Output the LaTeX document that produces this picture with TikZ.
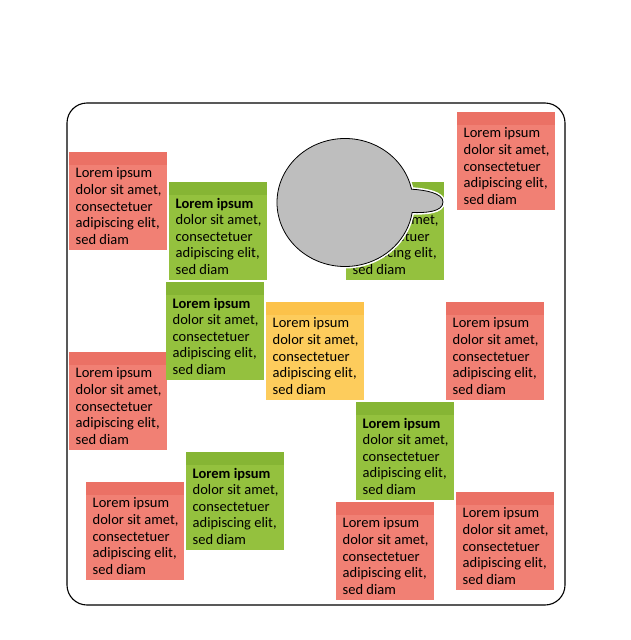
\documentclass[tikz,border=0pt]{standalone}
\usepackage{fontspec}
\setmainfont{Carlito}
\usetikzlibrary{positioning}
\definecolor{nred}{RGB}{241,128,116}
\definecolor{nredtop}{RGB}{235,113,101}
\definecolor{ngreen}{RGB}{148,193,62}
\definecolor{ngreentop}{RGB}{134,181,52}
\definecolor{nyellow}{RGB}{253,204,92}
\definecolor{nyellowtop}{RGB}{252,194,74}
\definecolor{bubblegrey}{RGB}{190,190,190}
\tikzset{
  every picture/.style={x=1pt, y=-1pt},
  note/.style={fill=#1, minimum width=98pt, minimum height=98pt, anchor=north west, inner sep=0pt, outer sep=0pt},
  notetext/.style={font=\fontsize{14.5}{16.6}\selectfont, align=left, anchor=north west, inner sep=0pt},
  frame/.style={draw=black, line width=1.1pt, rounded corners=20pt},
  bubble/.style={fill=bubblegrey, draw=black, line width=0.8pt, preaction={draw=white, line width=4pt}},
}
\begin{document}
\begin{tikzpicture}
  \useasboundingbox (0,0) rectangle (630,640);
  \draw[frame] (67,103) rectangle (565,605);
  \foreach \n/\x/\y/\c/\s/\f in {
      r1/69/152/nred/nredtop/{},
      r2/457/112/nred/nredtop/{},
      r3/69/352/nred/nredtop/{},
      r4/446/302/nred/nredtop/{},
      r5/86/482/nred/nredtop/{},
      r6/336/502/nred/nredtop/{},
      r7/456/492/nred/nredtop/{},
      g1/169/182/ngreen/ngreentop/\bfseries,
      g2/346/182/ngreen/ngreentop/\bfseries,
      g3/166/282/ngreen/ngreentop/\bfseries,
      g4/356/402/ngreen/ngreentop/\bfseries,
      g5/186/452/ngreen/ngreentop/\bfseries,
      y1/266/302/nyellow/nyellowtop/{}} {
    \node[note=\c] (\n) at (\x,\y) {};
    \fill[\s] (\n.north west) rectangle ([shift={(0,13)}]\n.north east);
    \node[notetext] (\n-t) at ([shift={(6.5,15.8)}]\n.north west)
      {{\f Lorem ipsum}\\dolor sit amet,\\consectetuer\\adipiscing elit,\\sed diam};
  }
  % speech bubble
  \coordinate (bc) at (345,202.5);
  \draw[bubble] ([shift={(-12:68 and 64)}]bc)
    arc[start angle=-12, end angle=-351, x radius=68, y radius=64]
    .. controls (425,213) and (443,212) .. (443,202)
    .. controls (443,193) and (425,190) .. cycle;
\end{tikzpicture}
\end{document}
